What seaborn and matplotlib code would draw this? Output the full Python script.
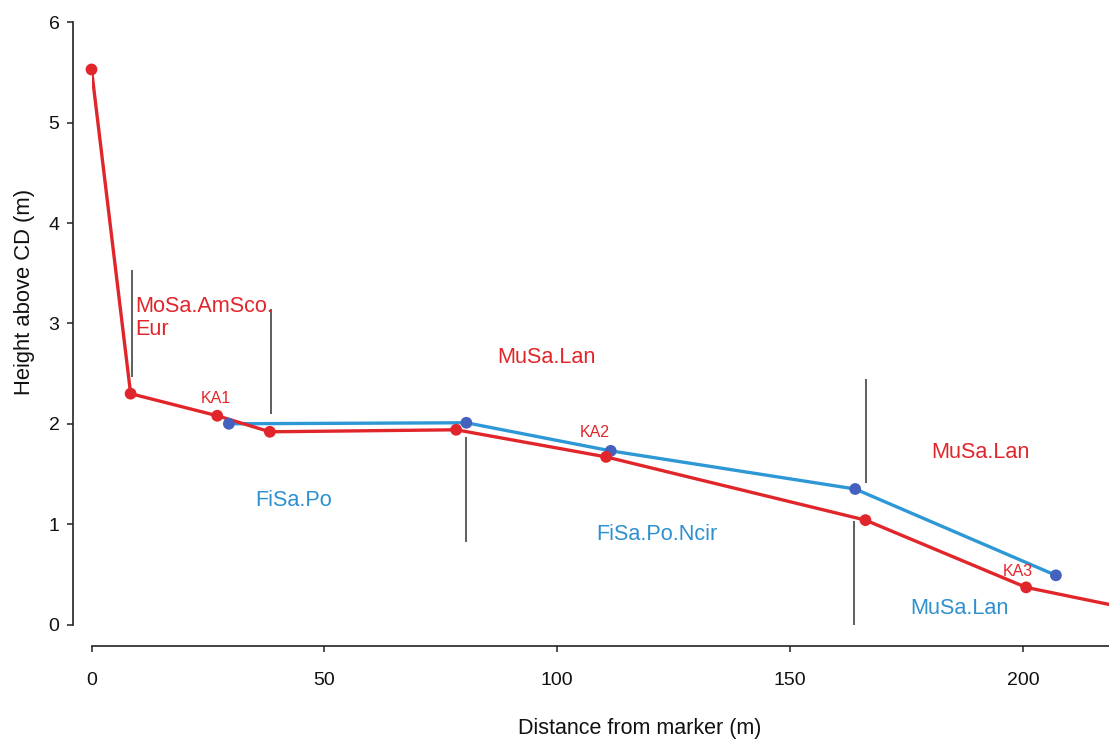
import matplotlib
matplotlib.use("Agg")
import matplotlib.pyplot as plt
import seaborn as sns
import pandas as pd

# ---- data ----
red_x = [0, 8.4, 27.0, 38.3, 78.3, 110.5, 166.2, 200.7, 218.5]
red_y = [5.53, 2.30, 2.08, 1.92, 1.94, 1.67, 1.04, 0.37, 0.20]
red_marked = [True, True, True, True, True, True, True, True, False]

blue_x = [29.5, 80.5, 111.5, 164.0, 207.1]
blue_y = [2.00, 2.01, 1.73, 1.35, 0.49]

div_x = [8.6, 38.5, 80.5, 166.3, 163.8]
div_y0 = [2.47, 2.10, 0.82, 1.41, -0.01]
div_y1 = [3.53, 3.14, 1.87, 2.45, 1.03]

zone_labels = ["MoSa.AmSco.\nEur", "MuSa.Lan", "MuSa.Lan",
               "FiSa.Po", "FiSa.Po.Ncir", "MuSa.Lan"]
zone_x = [9.5, 97.6, 190.8, 43.5, 121.5, 186.4]
zone_y = [3.27, 2.66, 1.71, 1.24, 0.90, 0.16]
zone_series = ["red", "red", "red", "blue", "blue", "blue"]

ka_labels = ["KA1", "KA2", "KA3"]
ka_x = [26.8, 108.1, 199.0]
ka_y = [2.25, 1.91, 0.53]

x_ticks = [0, 50, 100, 150, 200]
y_ticks = [0, 1, 2, 3, 4, 5, 6]

RED = "#E1262B"
BLUE_LINE = "#2E97D5"
BLUE_MARK = "#4561BE"
BLUE_TEXT = "#2F90CE"

sns.set_theme(style="white")
plt.rcParams["font.family"] = ["Liberation Sans", "DejaVu Sans"]

W, H = 1109, 740
fig = plt.figure(figsize=(W / 100, H / 100), dpi=100)
ax = fig.add_axes([91.5 / W, (H - 624.5) / H, (W - 91.5) / W, (624.5 - 22.3) / H])

red_df = pd.DataFrame({"x": red_x, "y": red_y, "m": red_marked})
blue_df = pd.DataFrame({"x": blue_x, "y": blue_y})

sns.lineplot(data=blue_df, x="x", y="y", sort=False, color=BLUE_LINE,
             linewidth=2.4, ax=ax, zorder=2)
sns.lineplot(data=red_df, x="x", y="y", sort=False, color=RED,
             linewidth=2.4, ax=ax, zorder=3)
sns.scatterplot(data=blue_df, x="x", y="y", color=BLUE_MARK, s=72,
                edgecolor="none", ax=ax, zorder=4, clip_on=False)
sns.scatterplot(data=red_df[red_df["m"]], x="x", y="y", color=RED, s=72,
                edgecolor="none", ax=ax, zorder=5, clip_on=False)

ax.vlines(div_x, div_y0, div_y1, color="#333333", linewidth=1.1, zorder=1)

for lab, x, y, s in zip(zone_labels, zone_x, zone_y, zone_series):
    if "\n" in lab:
        ax.text(x, y, lab, color=RED, fontsize=15.6, ha="left", va="top",
                linespacing=1.1)
    else:
        ax.text(x, y, lab, color=RED if s == "red" else BLUE_TEXT,
                fontsize=15.6, ha="center", va="center")

for lab, x, y in zip(ka_labels, ka_x, ka_y):
    ax.text(x, y, lab, color=RED, fontsize=11.5, ha="center", va="center")

ax.set_xlim(0, 218.5)
ax.set_ylim(0, 6)
ax.set_xticks(x_ticks)
ax.set_yticks(y_ticks)
ax.set_xticklabels([str(t) for t in x_ticks])
ax.set_yticklabels([str(t) for t in y_ticks])

for side in ["top", "right"]:
    ax.spines[side].set_visible(False)
ax.spines["left"].set_position(("outward", 13.5))
ax.spines["bottom"].set_position(("outward", 15.5))
ax.spines["left"].set_bounds(0, 6)
ax.spines["bottom"].set_bounds(0, 218.5)
for side in ["left", "bottom"]:
    ax.spines[side].set_color("#222222")
    ax.spines[side].set_linewidth(1.2)

ax.tick_params(axis="both", which="major", direction="out", length=4.5,
               width=1.1, color="#222222", labelsize=14, labelcolor="#111111",
               left=True, bottom=True)
ax.tick_params(axis="x", pad=14)
ax.tick_params(axis="y", pad=5)

ax.set_xlabel("Distance from marker (m)", fontsize=15.5, color="#111111")
ax.set_ylabel("Height above CD (m)", fontsize=15.8, color="#111111")
ax.xaxis.set_label_coords(0.539, -0.156)
ax.yaxis.set_label_coords(-0.0555, 0.552)

fig.savefig("out.png", dpi=100)
